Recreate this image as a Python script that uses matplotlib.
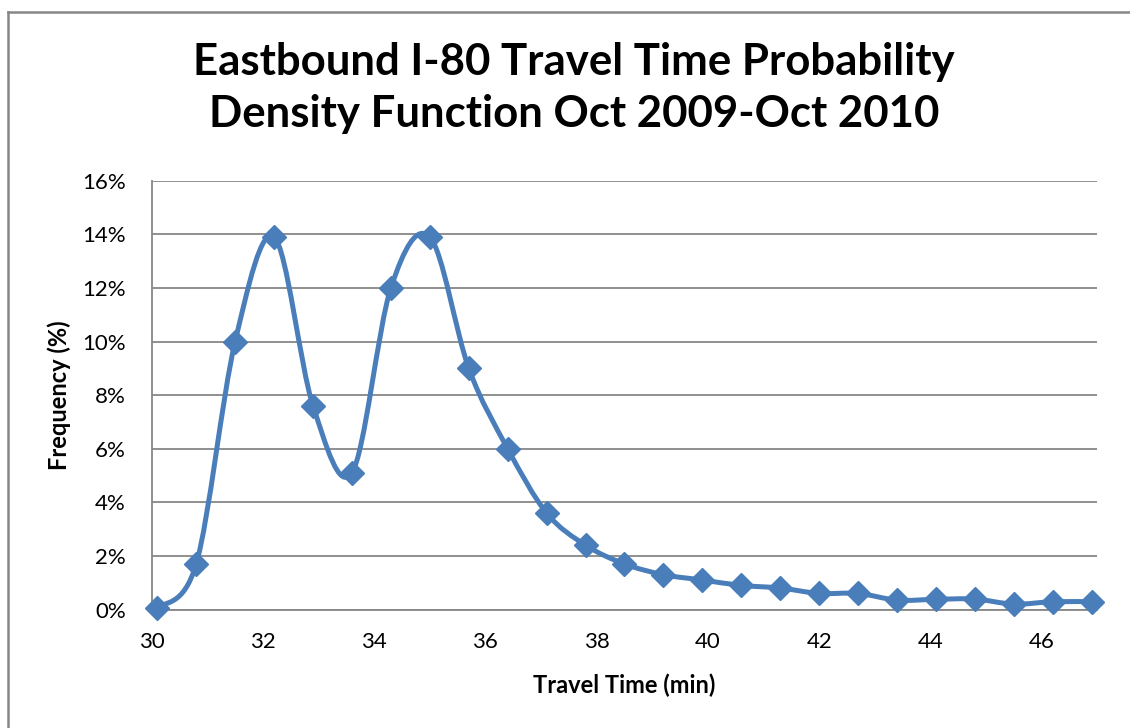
import numpy as np
import matplotlib
matplotlib.use("Agg")
import matplotlib.pyplot as plt
from matplotlib.path import Path
from matplotlib.patches import PathPatch
from matplotlib.lines import Line2D
from matplotlib.ticker import FuncFormatter

# ---- data ----
travel_time = [30.1, 30.8, 31.5, 32.2, 32.9, 33.6, 34.3, 35.0, 35.7, 36.4, 37.1,
               37.8, 38.5, 39.2, 39.9, 40.6, 41.3, 42.0, 42.7, 43.4, 44.1, 44.8,
               45.5, 46.2, 46.9]
frequency_pct = [0.05, 1.7, 10.0, 13.9, 7.6, 5.1, 12.0, 13.9, 9.0, 6.0, 3.6,
                 2.4, 1.7, 1.3, 1.1, 0.9, 0.8, 0.6, 0.6, 0.35, 0.38, 0.39,
                 0.2, 0.29, 0.29]
x_ticks = [30, 32, 34, 36, 38, 40, 42, 44, 46]
y_ticks = [0, 2, 4, 6, 8, 10, 12, 14, 16]
title_lines = ["Eastbound I-80 Travel Time Probability",
               "Density Function Oct 2009-Oct 2010"]
xlabel = "Travel Time (min)"
ylabel = "Frequency (%)"

plt.rcParams['font.family'] = ['Lato', 'DejaVu Sans']
W, H = 1130, 728
fig = plt.figure(figsize=(W / 100, H / 100), dpi=100)

# chart-area border (only left and top edges are visible in the reference)
bx, by = 7.5 / W, 1 - 11.5 / H
fig.add_artist(Line2D([bx, bx], [-0.01, by], transform=fig.transFigure,
                      color='#878787', linewidth=1.8, solid_capstyle='projecting'))
fig.add_artist(Line2D([bx, 1.01], [by, by], transform=fig.transFigure,
                      color='#878787', linewidth=1.8, solid_capstyle='projecting'))

left, right, top, bottom = 151.7, 1097.3, 180.7, 609.5
ax = fig.add_axes([left / W, 1 - bottom / H, (right - left) / W, (bottom - top) / H])
ax.set_xlim(30, 47)
ax.set_ylim(0, 16)
ax.set_xticks(x_ticks)
ax.set_yticks(y_ticks)
ax.yaxis.set_major_formatter(FuncFormatter(lambda v, p: f"{int(round(v))}%"))
ax.tick_params(length=0, labelsize=16, colors='black')
ax.tick_params(axis='y', pad=18.5)
ax.tick_params(axis='x', pad=16)
ax.grid(axis='y', color='#878787', linewidth=1.3)
ax.set_axisbelow(True)
for s in ['top', 'right']:
    ax.spines[s].set_visible(False)
for s in ['left', 'bottom']:
    ax.spines[s].set_color('#878787')
    ax.spines[s].set_linewidth(1.3)

# smoothed line (Catmull-Rom style bezier, as Excel's smoothed line)
xs = np.array(travel_time, dtype=float)
ys = np.array(frequency_pct, dtype=float)
n = len(xs)
verts = [(xs[0], ys[0])]
codes = [Path.MOVETO]
for i in range(n - 1):
    p0 = np.array([xs[max(i - 1, 0)], ys[max(i - 1, 0)]])
    p1 = np.array([xs[i], ys[i]])
    p2 = np.array([xs[i + 1], ys[i + 1]])
    p3 = np.array([xs[min(i + 2, n - 1)], ys[min(i + 2, n - 1)]])
    c1 = p1 + (p2 - p0) / 6.0
    c2 = p2 - (p3 - p1) / 6.0
    verts += [tuple(c1), tuple(c2), tuple(p2)]
    codes += [Path.CURVE4] * 3
color = '#4A7EBB'
ax.add_patch(PathPatch(Path(verts, codes), fill=False, edgecolor=color,
                       linewidth=3.6, capstyle='round', joinstyle='round',
                       zorder=3, clip_on=False))
ax.plot(xs, ys, linestyle='none', marker='D', markersize=12,
        color=color, zorder=4, clip_on=False)

# title
fig.text(574 / W, 1 - 75 / H, title_lines[0], ha='center', va='baseline',
         fontsize=31.5, fontweight='bold')
fig.text(574 / W, 1 - 127 / H, title_lines[1], ha='center', va='baseline',
         fontsize=31.5, fontweight='bold')

# axis labels
fig.text((left + right) / 2 / W, 1 - 693 / H, xlabel, ha='center', va='baseline',
         fontsize=17, fontweight='bold')
fig.text(59 / W, 1 - 395 / H, ylabel, ha='center', va='center', rotation=90,
         fontsize=17, fontweight='bold')

fig.savefig('out.png', dpi=100)
